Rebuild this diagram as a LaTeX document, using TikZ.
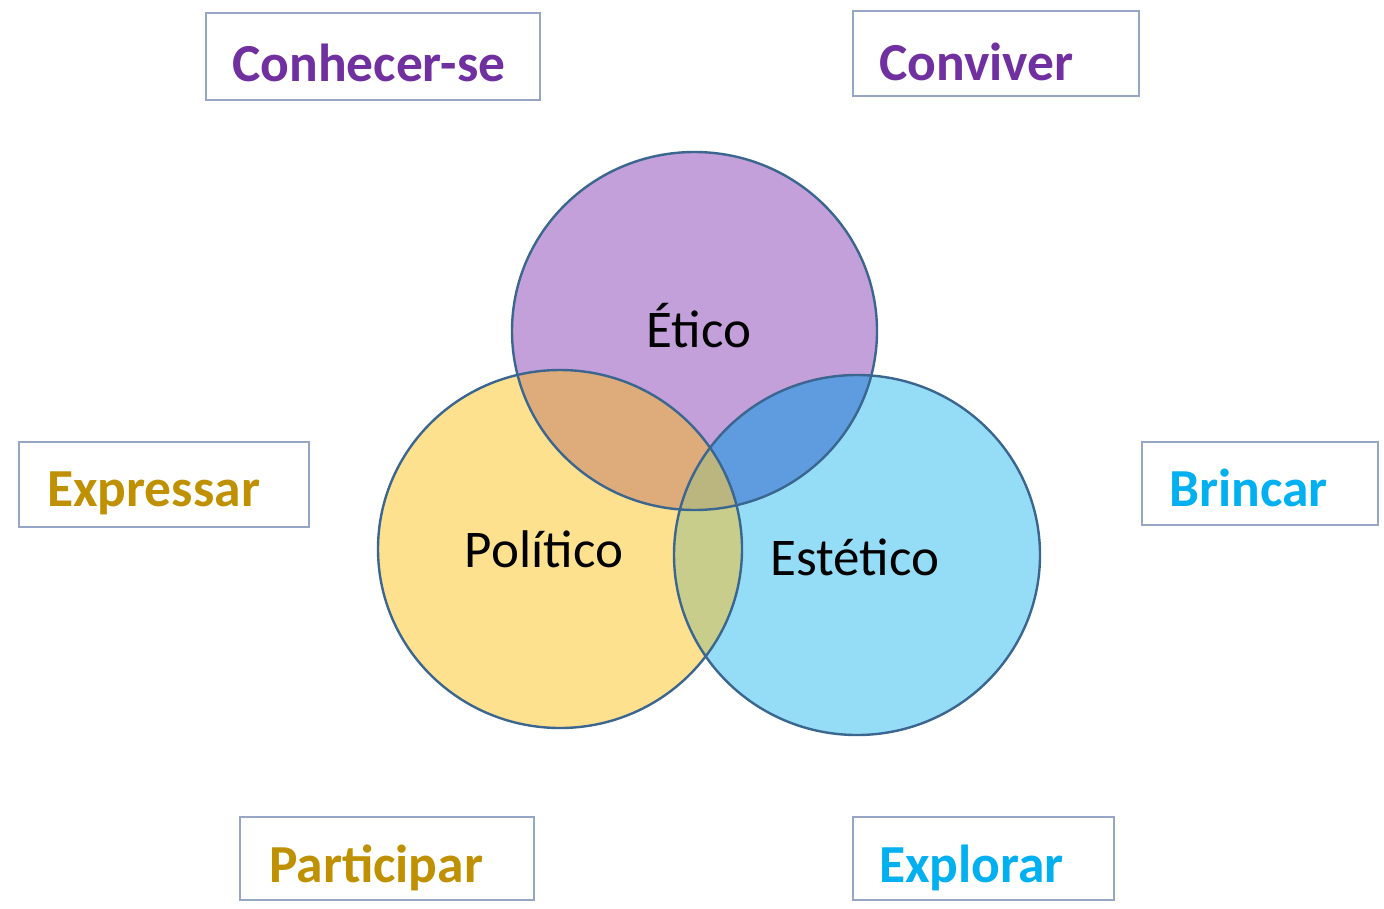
\documentclass[tikz,border=0pt]{standalone}
\usepackage{fontspec}
\setmainfont{Carlito}
\definecolor{pf}{HTML}{C3A0D9}
\definecolor{yf}{HTML}{FDE18F}
\definecolor{bf}{HTML}{95DCF7}
\definecolor{pyf}{HTML}{DEAB7B}
\definecolor{pbf}{HTML}{5E9BDF}
\definecolor{ybf}{HTML}{C8CD8C}
\definecolor{pybf}{HTML}{BBB680}
\definecolor{ring}{HTML}{3A668F}
\definecolor{boxline}{HTML}{97A6C4}
\definecolor{tpurple}{HTML}{7030A0}
\definecolor{tgold}{HTML}{BF9000}
\definecolor{tblue}{HTML}{00B0F0}
\begin{document}
\begin{tikzpicture}[x=1pt,y=-1pt,
  box/.style={draw=boxline,line width=1.6pt,fill=white,inner sep=0pt},
  word/.style={anchor=base west,inner sep=0pt,font=\fontsize{53.5}{60}\selectfont\bfseries},
  clabel/.style={anchor=base,inner sep=0pt,font=\fontsize{53}{60}\selectfont},
  ringline/.style={draw=ring,line width=2.4pt}]
\useasboundingbox (0,0) rectangle (1384,908);
\fill[white] (0,0) rectangle (1384,908);
% base fills
\fill[pf] (694.5,331) ellipse [x radius=182.5,y radius=179];
\fill[yf] (560,549) ellipse [x radius=182,y radius=179];
\fill[bf] (857,555) ellipse [x radius=183,y radius=180];
% pairwise
\begin{scope}
  \clip (694.5,331) ellipse [x radius=182.5,y radius=179];
  \fill[pyf] (560,549) ellipse [x radius=182,y radius=179];
  \fill[pbf] (857,555) ellipse [x radius=183,y radius=180];
\end{scope}
\begin{scope}
  \clip (560,549) ellipse [x radius=182,y radius=179];
  \fill[ybf] (857,555) ellipse [x radius=183,y radius=180];
  \clip (857,555) ellipse [x radius=183,y radius=180];
  \fill[pybf] (694.5,331) ellipse [x radius=182.5,y radius=179];
\end{scope}
% outlines
\draw[ringline] (694.5,331) ellipse [x radius=182.5,y radius=179];
\draw[ringline] (560,549) ellipse [x radius=182,y radius=179];
\draw[ringline] (857,555) ellipse [x radius=183,y radius=180];
% circle labels
\node[clabel] (etico) at (699,347) {Ético};
\node[clabel] (politico) at (544,567) {Político};
\node[clabel] (estetico) at (855,575) {Estético};
% boxes
\node[box,minimum width=334pt,minimum height=87pt] (b1) at (373,56.5) {};
\node[box,minimum width=286pt,minimum height=85pt] (b2) at (996,53.5) {};
\node[box,minimum width=290pt,minimum height=85pt] (b3) at (164,484.5) {};
\node[box,minimum width=236pt,minimum height=83pt] (b4) at (1260,483.5) {};
\node[box,minimum width=294pt,minimum height=83pt] (b5) at (387,858.5) {};
\node[box,minimum width=261pt,minimum height=83pt] (b6) at (983.5,858.5) {};
% words
\node[word,text=tpurple] (w1) at (232,81) {Conhecer-se};
\node[word,text=tpurple] (w2) at (879,80) {Conviver};
\node[word,text=tgold] (w3) at (47,506) {Expressar};
\node[word,text=tblue] (w4) at (1169,506) {Brincar};
\node[word,text=tgold] (w5) at (269,882) {Participar};
\node[word,text=tblue] (w6) at (879,882) {Explorar};
\end{tikzpicture}
\end{document}
